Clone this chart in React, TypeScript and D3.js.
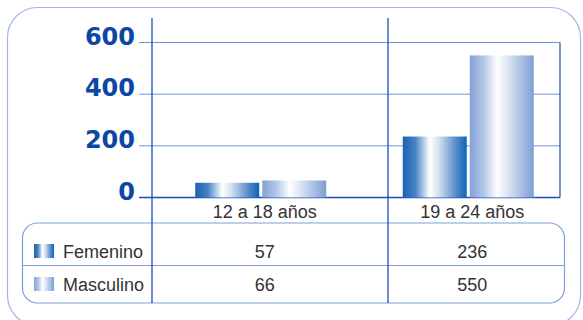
import React from "react";
import * as d3 from "d3";

const categories = ["12 a 18 años", "19 a 24 años"];
const seriesNames = ["Femenino", "Masculino"];
const femenino = [57, 236];
const masculino = [66, 550];
const yTicks = [0, 200, 400, 600];

const W = 583;
const H = 320;
const FONT = "'Liberation Sans', Arial, sans-serif";

export default function App() {
  const y = d3.scaleLinear().domain([0, 600]).range([197.5, 42.5]);
  const x0 = d3
    .scaleBand<string>()
    .domain(categories)
    .range([157, 572])
    .paddingInner(0.3687)
    .paddingOuter(0.1843);
  const x1 = d3
    .scaleBand<string>()
    .domain(seriesNames)
    .range([0, x0.bandwidth()])
    .paddingInner(0.045);
  const values: Record<string, number[]> = { Femenino: femenino, Masculino: masculino };
  const grad: Record<string, string> = { Femenino: "url(#gFem)", Masculino: "url(#gMas)" };

  const axisX = 152;
  const dividerX = 388;
  const plotRight = 560;
  const gridLeft = 139;
  const tableTop = 223;
  const tableMid = 265.5;
  const tableBottom = 303;
  const gridColor = "#6f93d8";
  const axisColor = "#1f4fae";
  const textColor = "#333333";
  const rowBaselines = [258, 291];

  return (
    <svg
      width={W}
      height={H}
      style={{ position: "absolute", left: 0, top: 0, background: "#fff" }}
      fontFamily={FONT}
    >
      <defs>
        <linearGradient id="gFem" x1="0" x2="1" y1="0" y2="0">
          <stop offset="0%" stopColor="#1a62b0" />
          <stop offset="20%" stopColor="#4a83c6" />
          <stop offset="42%" stopColor="#ffffff" />
          <stop offset="55%" stopColor="#d9e4f3" />
          <stop offset="85%" stopColor="#4f86c8" />
          <stop offset="100%" stopColor="#0a66b6" />
        </linearGradient>
        <linearGradient id="gMas" x1="0" x2="1" y1="0" y2="0">
          <stop offset="0%" stopColor="#84a2d5" />
          <stop offset="22%" stopColor="#b3c6e7" />
          <stop offset="43%" stopColor="#ffffff" />
          <stop offset="58%" stopColor="#dfe7f5" />
          <stop offset="100%" stopColor="#7e9ed3" />
        </linearGradient>
      </defs>

      {/* outer rounded frame */}
      <rect x={7.5} y={7.5} width={573} height={318} rx={30} ry={30} fill="none" stroke="#9fb6e4" strokeWidth={1.2} />

      {/* gridlines */}
      {yTicks.map((t) => (
        <line
          key={"g" + t}
          x1={gridLeft}
          x2={plotRight}
          y1={y(t)}
          y2={y(t)}
          stroke={t === 0 ? axisColor : gridColor}
          strokeWidth={t === 0 ? 1.5 : 1}
        />
      ))}
      {/* right border of plot */}
      <line x1={plotRight} x2={plotRight} y1={y(600)} y2={y(0)} stroke={axisColor} strokeWidth={1.2} />

      {/* y labels */}
      {yTicks.map((t) => (
        <text
          key={"l" + t}
          x={135}
          y={y(t) + 2}
          textAnchor="end"
          fontFamily="'DejaVu Sans', sans-serif"
          fontWeight="bold"
          fontSize={24}
          fill="#0b47a6"
        >
          {t}
        </text>
      ))}

      {/* bars */}
      {categories.map((c, i) => (
        <g key={c} transform={`translate(${x0(c)},0)`}>
          {seriesNames.map((s) => (
            <rect
              key={s}
              x={x1(s)}
              y={y(values[s][i])}
              width={x1.bandwidth()}
              height={y(0) - y(values[s][i])}
              fill={grad[s]}
            />
          ))}
        </g>
      ))}

      {/* table */}
      <rect
        x={22.5}
        y={tableTop}
        width={542}
        height={tableBottom - tableTop}
        rx={15}
        ry={15}
        fill="none"
        stroke="#7f9edb"
        strokeWidth={1.2}
      />
      <line x1={22.5} x2={564.5} y1={tableMid} y2={tableMid} stroke="#7f9edb" strokeWidth={1.2} />

      {/* vertical axis & divider */}
      <line x1={axisX} x2={axisX} y1={18} y2={tableBottom} stroke={axisColor} strokeWidth={1.3} />
      <line x1={dividerX} x2={dividerX} y1={18} y2={tableBottom} stroke={axisColor} strokeWidth={1.3} />

      {/* category labels */}
      {categories.map((c) => (
        <text
          key={"c" + c}
          x={(x0(c) ?? 0) + x0.bandwidth() / 2 + 4}
          y={218.3}
          textAnchor="middle"
          fontSize={18}
          fill={textColor}
        >
          {c}
        </text>
      ))}

      {/* legend rows */}
      {seriesNames.map((s, r) => (
        <g key={"leg" + s}>
          <rect x={34} y={rowBaselines[r] - 14} width={20} height={14} fill={grad[s]} />
          <text x={63} y={rowBaselines[r]} fontSize={18} fill={textColor}>
            {s}
          </text>
          {categories.map((c, i) => (
            <text
              key={s + c}
              x={(x0(c) ?? 0) + x0.bandwidth() / 2 + 4}
              y={rowBaselines[r]}
              textAnchor="middle"
              fontSize={18}
              fill={textColor}
            >
              {values[s][i]}
            </text>
          ))}
        </g>
      ))}
    </svg>
  );
}
